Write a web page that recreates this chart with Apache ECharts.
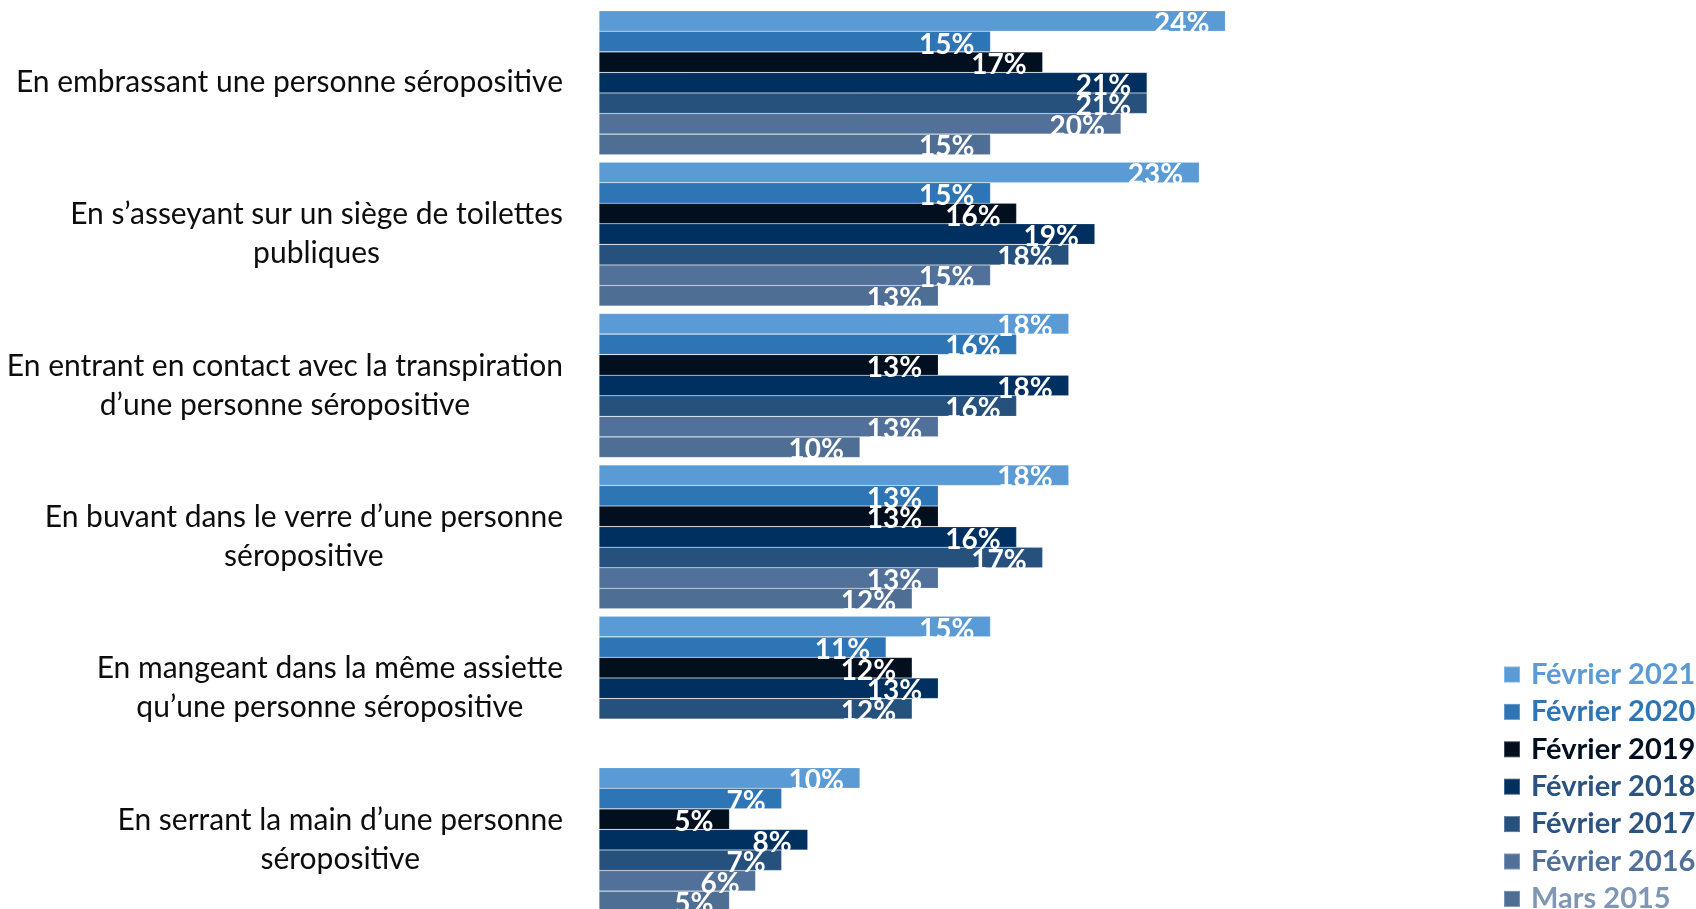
<!DOCTYPE html>
<html>
<head>
<meta charset="utf-8">
<script src="https://cdn.jsdelivr.net/npm/echarts@6/dist/echarts.min.js"></script>
<style>
html,body{margin:0;padding:0;background:#fff;}
#chart{width:1696px;height:909px;}
</style>
</head>
<body>
<div id="chart"></div>
<script>
const categories = [
  "En embrassant une personne séropositive",
  "En s’asseyant sur un siège de toilettes\npubliques",
  "En entrant en contact avec la transpiration\nd’une personne séropositive",
  "En buvant dans le verre d’une personne\nséropositive",
  "En mangeant dans la même assiette\nqu’une personne séropositive",
  "En serrant la main d’une personne\nséropositive"
];
const seriesNames = ["Février 2021","Février 2020","Février 2019","Février 2018","Février 2017","Février 2016","Mars 2015"];
const fev2021 = [24, 23, 18, 18, 15, 10];
const fev2020 = [15, 15, 16, 13, 11, 7];
const fev2019 = [17, 16, 13, 13, 12, 5];
const fev2018 = [21, 19, 18, 16, 13, 8];
const fev2017 = [21, 18, 16, 17, 12, 7];
const fev2016 = [20, 15, 13, 13, null, 6];
const mars2015 = [15, 13, 10, 12, null, 5];
const seriesValues = [fev2021, fev2020, fev2019, fev2018, fev2017, fev2016, mars2015];

const barColors = ["#5b9bd5","#2e75b6","#020f1e","#003060","#27517d","#51719a","#4f6e94"];
const legendTextColors = ["#5b9bd5","#2e75b6","#000f1f","#2a5382","#2b5381","#50709a","#7f96b5"];

const chart = echarts.init(document.getElementById('chart'), null, {renderer:'canvas'});
const FONT = 'Lato';

const series = seriesNames.map((name, i) => ({
  name: name,
  type: 'bar',
  data: seriesValues[i],
  barGap: '0%',
  barCategoryGap: '4.9%',
  itemStyle: {color: barColors[i], borderColor: 'rgba(255,255,255,0.25)', borderWidth: 0.6},
  label: {
    show: true,
    position: 'insideRight',
    distance: 16,
    offset: [0, 3],
    formatter: p => p.value + '%',
    color: '#ffffff',
    fontFamily: FONT,
    fontWeight: 'bold',
    fontSize: 28
  },
  emphasis: {disabled: true},
  animation: false
}));

chart.setOption({
  animation: false,
  grid: {left: 599, top: 7, width: 1044, bottom: -6.4, containLabel: false, outerBoundsMode: 'none'},
  xAxis: {type: 'value', min: 0, max: 40, show: false},
  yAxis: {
    type: 'category',
    data: categories,
    inverse: true,
    axisLine: {show: false},
    axisTick: {show: false},
    splitLine: {show: false},
    axisLabel: {
      margin: 36,
      align: 'right',
      formatter: v => v.split('\n').map(l => '{c|' + l + '}').join('\n'),
      rich: {
        c: {align: 'center', fontFamily: FONT, fontSize: 30, color: '#0d0d0d', lineHeight: 39}
      }
    }
  },
  legend: {
    orient: 'vertical',
    left: 1503,
    top: 660,
    height: 280,
    padding: 0,
    align: 'left',
    itemWidth: 16,
    itemHeight: 16,
    itemGap: 8.4,
    icon: 'rect',
    textStyle: {fontFamily: FONT, fontWeight: 'bold', fontSize: 29, padding: [0,0,0,6]},
    data: seriesNames.map((n, i) => ({name: n, textStyle: {color: legendTextColors[i]}}))
  },
  series: series
});
</script>
</body>
</html>
